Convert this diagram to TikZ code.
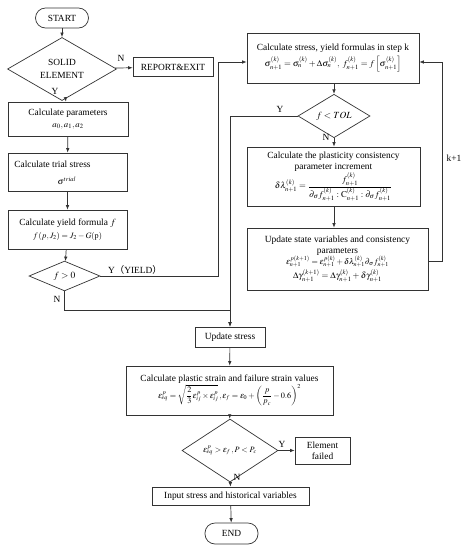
\documentclass[tikz,border=0pt]{standalone}
\usepackage{amsmath}
\usepackage{mathptmx}
\usepackage{fontspec}
\setmainfont{Liberation Serif}
\newfontfamily\cjk{Noto Sans CJK SC}
\usetikzlibrary{shapes.geometric,arrows.meta}
\newcommand{\txt}{\fontsize{9.4}{11}\selectfont}
\newcommand{\frm}{\fontsize{8.8}{10}\selectfont}
\newcommand{\frs}{\fontsize{8.2}{10}\selectfont}
\begin{document}
\begin{tikzpicture}[x=1pt,y=-1pt,
  every path/.style={draw=black!80, line width=0.7pt},
  box/.style={draw=black!80, line width=0.7pt, rectangle, inner sep=1pt, align=center, font=\txt},
  dia/.style={draw=black!80, line width=0.7pt, diamond, inner sep=0pt, align=center, font=\txt},
  term/.style={draw=black!80, line width=0.7pt, rectangle, rounded corners=10pt, inner sep=1pt, font=\txt},
  arr/.style={-{Latex[length=4.5pt,width=3.5pt]}},
  lbl/.style={inner sep=1pt, font=\txt}]
\path[use as bounding box, draw=none, fill=white] (0,0) rectangle (465,550);
% left column
\node[term, minimum width=53pt, minimum height=20pt] (start) at (62,18) {START};
\node[dia, minimum width=109pt, minimum height=42pt] (solid) at (62,69) {SOLID\\[2pt]ELEMENT};
\node[box, minimum width=80pt, minimum height=19pt] (report) at (173,67) {REPORT\&EXIT};
\node[box, minimum width=120pt, minimum height=34pt] (params) at (68,119) {Calculate parameters\\[1pt]{\frm$a_0,a_1,a_2$}};
\node[box, minimum width=119pt, minimum height=38pt] (trial) at (67.5,172) {};
\node[lbl, anchor=west] (trialt) at (13,164) {Calculate trial stress};
\node[lbl] (trialf) at (67,181) {\frm$\sigma^{trial}$};
\node[box, minimum width=119pt, minimum height=39pt] (yield) at (67.5,229.5) {Calculate yield formula $f$\\[2pt]{\frs$f\left(p,J_2\right)=J_2-G(\mathrm{p})$}};
\node[dia, minimum width=71pt, minimum height=23pt] (fgt) at (64.5,276) {$f>0$};
% right column
\node[box, minimum width=172pt, minimum height=50pt] (stepk) at (333,58) {Calculate stress, yield formulas in step k\\[3pt]{\frm$\sigma_{n+1}^{(k)}=\sigma_n^{(k)}+\Delta\sigma_n^{(k)},\ f_{n+1}^{(k)}=f\left[\sigma_{n+1}^{(k)}\right]$}};
\node[dia, minimum width=72pt, minimum height=28pt] (tol) at (334,116) {$f<TOL$};
\node[box, minimum width=173pt, minimum height=59pt] (incr) at (333.5,176.5) {Calculate the plasticity consistency\\parameter increment\\{\frm$\delta\lambda_{n+1}^{(k)}=\dfrac{f_{n+1}^{(k)}}{\partial_\sigma f_{n+1}^{(k)}:\mathrm{C}_{n+1}^{(k)}:\partial_\sigma f_{n+1}^{(k)}}$}};
\node[box, minimum width=181pt, minimum height=62pt] (upd) at (337.5,259) {Update state variables and consistency\\parameters\\{\frs$\varepsilon_{n+1}^{p(k+1)}=\varepsilon_{n+1}^{p(k)}+\delta\lambda_{n+1}^{(k)}\partial_\sigma f_{n+1}^{(k)}$}\\[1pt]{\frm$\Delta\gamma_{n+1}^{(k+1)}=\Delta\gamma_{n+1}^{(k)}+\delta\gamma_{n+1}^{(k)}$}};
% bottom column
\node[box, minimum width=70pt, minimum height=20pt] (ups) at (230,337) {Update stress};
\node[box, minimum width=207pt, minimum height=49pt] (plas) at (229.5,390.5) {Calculate plastic strain and failure strain values\\{\frs$\varepsilon_{eq}^p=\sqrt{\dfrac{2}{3}\varepsilon_{ij}^p\times\varepsilon_{ij}^p}\,,\varepsilon_f=\varepsilon_0+\left(\dfrac{p}{p_c}-0.6\right)^2$}};
\node[dia, minimum width=96pt, minimum height=35pt] (fail) at (230,450.5) {\frs$\varepsilon_{eq}^p>\varepsilon_f\,,P<P_c$};
\node[box, minimum width=55pt, minimum height=27pt] (failed) at (322.5,450.5) {Element\\failed};
\node[box, minimum width=157pt, minimum height=18pt] (input) at (230.5,496) {Input stress and historical variables};
\node[term, minimum width=53pt, minimum height=21pt] (end) at (231.5,533.5) {END};
% helper coordinates
\coordinate (c1) at (218,62);
\coordinate (c2) at (218,276);
\coordinate (c3) at (64.5,310);
\coordinate (c4) at (230,310);
\coordinate (c5) at (230,116);
\coordinate (c6) at (442,261);
\coordinate (c7) at (442,62);
% connectors
\draw[arr] (start) -- (solid);
\draw[arr] (solid) -- (report);
\draw[arr] (solid) -- (params);
\draw[arr] (params) -- (trial);
\draw[arr] (trial) -- (yield);
\draw[arr] (yield) -- (fgt);
\draw[arr] (fgt.east) -- (c2) -- (c1) -- (c1 -| stepk.west);
\draw[arr] (fgt.south) -- (c3) -- (c4) -- (ups.north);
\draw[arr] (stepk.south -| tol.north) -- (tol.north);
\draw[arr] (tol.west) -- (c5) -- (ups.north);
\draw[arr] (tol.south) -- (tol.south |- incr.north);
\draw[arr] (incr.south -| tol.south) -- (tol.south |- upd.north);
\draw[arr] (c6 -| upd.east) -- (c6) -- (c7) -- (c7 -| stepk.east);
\draw[arr] (ups) -- (plas);
\draw[arr] (plas) -- (fail);
\draw[arr] (fail) -- (failed);
\draw[arr] (fail) -- (input);
\draw[arr] (input) -- (end);
% labels
\node[lbl] (lN1) at (121,58) {N};
\node[lbl] (lY1) at (55,91) {Y};
\node[lbl] (lY2) at (135,270) {Y{\cjk （}YIELD{\cjk ）}};
\node[lbl] (lN2) at (57,299) {N};
\node[lbl] (lY3) at (280,109) {Y};
\node[lbl] (lN3) at (326,137) {N};
\node[lbl] (lk) at (454,158) {k+1};
\node[lbl] (lY4) at (282,444) {Y};
\node[lbl] (lN4) at (237,477) {N};
\end{tikzpicture}
\end{document}
